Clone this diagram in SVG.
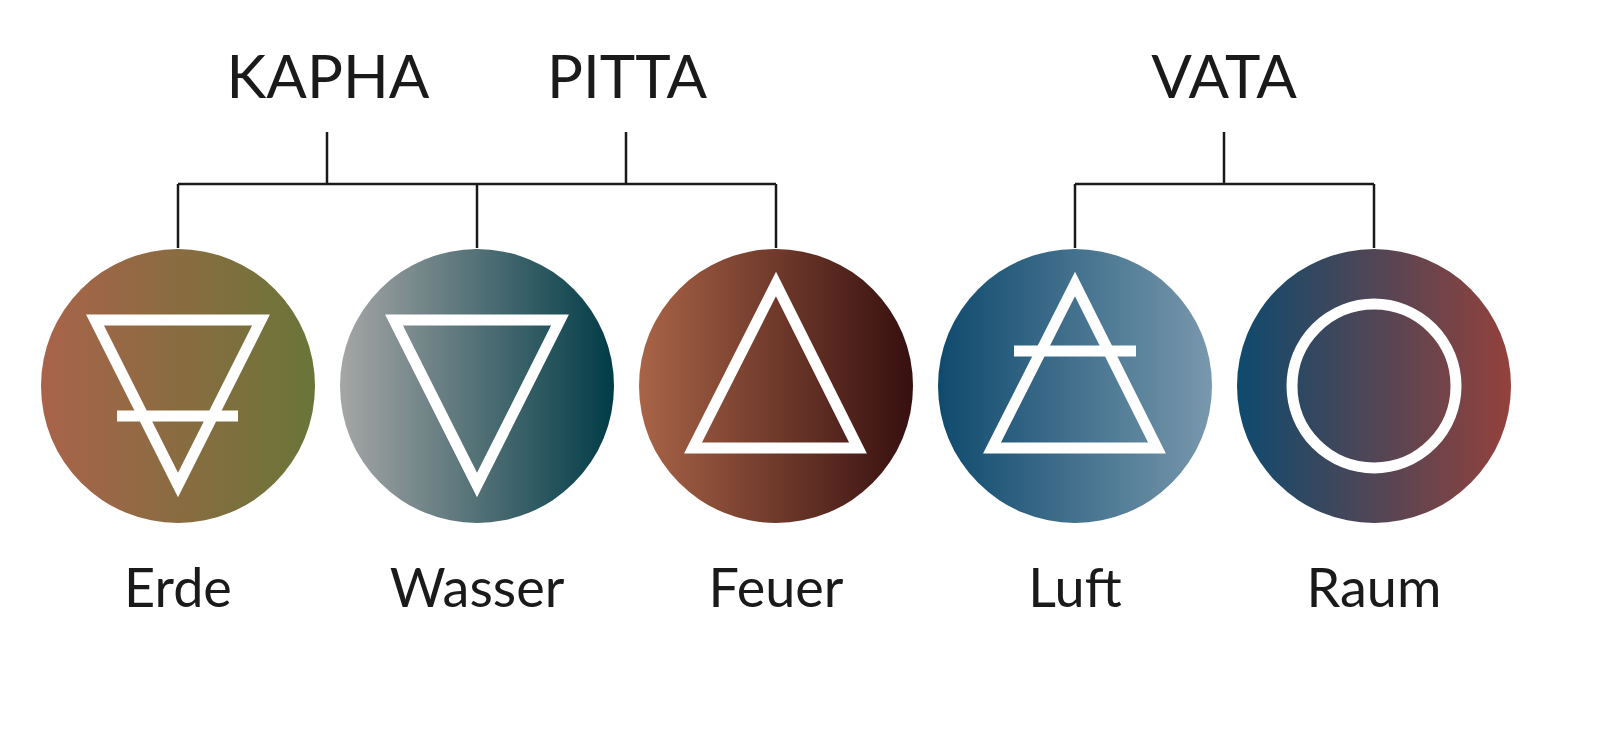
<svg xmlns="http://www.w3.org/2000/svg" width="1598" height="734" viewBox="0 0 1598 734">
<style>
.t{font-family:Lato,"Liberation Sans",sans-serif;fill:#1a1a1a;text-anchor:middle}
.h{font-size:60px}
.l{font-size:54px}
.s{fill:none;stroke:#fff;stroke-width:11}
.c{fill:none;stroke:#1a1a1a;stroke-width:2.5}
</style>
<defs>
<linearGradient id="g1"><stop offset="0" stop-color="#a9634a"/><stop offset="1" stop-color="#6a7538"/></linearGradient>
<linearGradient id="g2"><stop offset="0" stop-color="#a6a6a6"/><stop offset="1" stop-color="#003c47"/></linearGradient>
<linearGradient id="g3"><stop offset="0" stop-color="#a96447"/><stop offset="1" stop-color="#360f0f"/></linearGradient>
<linearGradient id="g4"><stop offset="0" stop-color="#0f4a6e"/><stop offset="1" stop-color="#7898ad"/></linearGradient>
<linearGradient id="g5"><stop offset="0" stop-color="#0e4a6e"/><stop offset="1" stop-color="#94413c"/></linearGradient>
</defs>
<g id="headers">
<text class="t h" x="328" y="98">KAPHA</text>
<text class="t h" x="627" y="98">PITTA</text>
<text class="t h" x="1224" y="98">VATA</text>
</g>
<g id="connectors">
<path class="c" d="M327 132V184M626 132V184M178 184H776M178 184V248M477 184V248M776 184V248M1224 132V184M1075 184H1374M1075 184V248M1374 184V248"/>
</g>
<g id="erde">
<circle cx="178" cy="386" r="137" fill="url(#g1)"/>
<polygon class="s" points="95,320 261,320 178,485"/>
<line class="s" x1="117" y1="416" x2="238" y2="416"/>
<text class="t l" x="178" y="607">Erde</text>
</g>
<g id="wasser">
<circle cx="477" cy="386" r="137" fill="url(#g2)"/>
<polygon class="s" points="394,320 560,320 477,485"/>
<text class="t l" x="477" y="607">Wasser</text>
</g>
<g id="feuer">
<circle cx="776" cy="386" r="137" fill="url(#g3)"/>
<polygon class="s" points="693,448 858,448 776,284"/>
<text class="t l" x="776" y="607">Feuer</text>
</g>
<g id="luft">
<circle cx="1075" cy="386" r="137" fill="url(#g4)"/>
<polygon class="s" points="992,448 1157,448 1075,284"/>
<line class="s" x1="1014" y1="351" x2="1136" y2="351"/>
<text class="t l" x="1075" y="607">Luft</text>
</g>
<g id="raum">
<circle cx="1374" cy="386" r="137" fill="url(#g5)"/>
<circle class="s" cx="1374" cy="386" r="82"/>
<text class="t l" x="1374" y="607">Raum</text>
</g>
</svg>
